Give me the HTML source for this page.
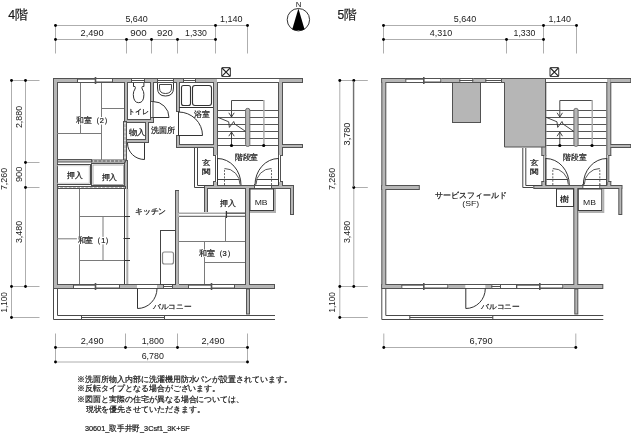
<!DOCTYPE html>
<html><head><meta charset="utf-8"><style>
html,body{margin:0;padding:0;background:#fff;overflow:hidden;}
svg{display:block;filter:grayscale(1);}
text{font-family:"Liberation Sans", sans-serif;fill:#1a1a1a;}
.j{stroke:#1a1a1a;stroke-width:0.22;}
</style></head><body>
<svg width="631" height="441" viewBox="0 0 631 441">
<rect width="631" height="441" fill="#fff"/>
<text class="j" x="8.3" y="19.2" font-size="12.5" textLength="19.8" lengthAdjust="spacingAndGlyphs" >4階</text>
<text class="j" x="337.4" y="19.2" font-size="12.5" textLength="19.3" lengthAdjust="spacingAndGlyphs" >5階</text>
<path d="M55.5 25.5H247.5M55.5 39.5H215.5" stroke="#aeaeae" stroke-width="1" fill="none" />
<path d="M55.5 25V53.5M215.5 25V53.5M247.5 25V53.5M126.5 39V53.5M151.5 39V53.5M177.5 39V53.5" stroke="#aeaeae" stroke-width="1" fill="none" />
<circle cx="55.5" cy="25.5" r="1.45" fill="#000"/>
<circle cx="215.5" cy="25.5" r="1.45" fill="#000"/>
<circle cx="247.5" cy="25.5" r="1.45" fill="#000"/>
<circle cx="55.5" cy="39.5" r="1.45" fill="#000"/>
<circle cx="126.5" cy="39.5" r="1.45" fill="#000"/>
<circle cx="151.5" cy="39.5" r="1.45" fill="#000"/>
<circle cx="177.5" cy="39.5" r="1.45" fill="#000"/>
<circle cx="215.5" cy="39.5" r="1.45" fill="#000"/>
<text x="125.4" y="22" font-size="8.4" textLength="22.4" lengthAdjust="spacingAndGlyphs" >5,640</text>
<text x="219.9" y="22" font-size="8.4" textLength="22.5" lengthAdjust="spacingAndGlyphs" >1,140</text>
<text x="80.5" y="35.7" font-size="8.4" textLength="23.1" lengthAdjust="spacingAndGlyphs" >2,490</text>
<text x="130.3" y="35.8" font-size="8.4" textLength="16.3" lengthAdjust="spacingAndGlyphs" >900</text>
<text x="157.1" y="35.8" font-size="8.4" textLength="15.8" lengthAdjust="spacingAndGlyphs" >920</text>
<text x="185.1" y="35.8" font-size="8.4" textLength="21.8" lengthAdjust="spacingAndGlyphs" >1,330</text>
<path d="M11.5 80V317.5M25.5 80V286.5" stroke="#aeaeae" stroke-width="1" fill="none" />
<path d="M11 80.5H39.5M11 286.5H39.5M11 317.5H39.5M25 162.5H39.5M25 187.5H39.5" stroke="#aeaeae" stroke-width="1" fill="none" />
<circle cx="11.5" cy="80.5" r="1.45" fill="#000"/>
<circle cx="25.5" cy="80.5" r="1.45" fill="#000"/>
<circle cx="25.5" cy="162.5" r="1.45" fill="#000"/>
<circle cx="25.5" cy="187.5" r="1.45" fill="#000"/>
<circle cx="11.5" cy="286.5" r="1.45" fill="#000"/>
<circle cx="25.5" cy="286.5" r="1.45" fill="#000"/>
<circle cx="11.5" cy="317.5" r="1.45" fill="#000"/>
<text x="0" y="0" font-size="8.4" textLength="22.2" lengthAdjust="spacingAndGlyphs" transform="translate(21.7 128.1) rotate(-90)">2,880</text>
<text x="0" y="0" font-size="8.4" textLength="15.5" lengthAdjust="spacingAndGlyphs" transform="translate(21.7 182.1) rotate(-90)">900</text>
<text x="0" y="0" font-size="8.4" textLength="22.2" lengthAdjust="spacingAndGlyphs" transform="translate(21.7 243.1) rotate(-90)">3,480</text>
<text x="0" y="0" font-size="8.4" textLength="22.2" lengthAdjust="spacingAndGlyphs" transform="translate(7.1 190.1) rotate(-90)">7,260</text>
<text x="0" y="0" font-size="8.4" textLength="20.0" lengthAdjust="spacingAndGlyphs" transform="translate(7.1 312.4) rotate(-90)">1,100</text>
<path d="M55.5 333.5V362M247.5 333.5V362M125.5 333.5V347.5M177.5 333.5V347.5" stroke="#aeaeae" stroke-width="1" fill="none" />
<path d="M55.5 347.5H247.5M55.5 362H247.5" stroke="#aeaeae" stroke-width="1" fill="none" />
<circle cx="55.5" cy="347.5" r="1.45" fill="#000"/>
<circle cx="125.5" cy="347.5" r="1.45" fill="#000"/>
<circle cx="177.5" cy="347.5" r="1.45" fill="#000"/>
<circle cx="247.5" cy="347.5" r="1.45" fill="#000"/>
<circle cx="55.5" cy="362" r="1.45" fill="#000"/>
<circle cx="247.5" cy="362" r="1.45" fill="#000"/>
<text x="80.7" y="344.2" font-size="8.4" textLength="23.0" lengthAdjust="spacingAndGlyphs" >2,490</text>
<text x="141.7" y="344.2" font-size="8.4" textLength="22.2" lengthAdjust="spacingAndGlyphs" >1,800</text>
<text x="201.5" y="344.2" font-size="8.4" textLength="23.0" lengthAdjust="spacingAndGlyphs" >2,490</text>
<text x="141.7" y="358.5" font-size="8.4" textLength="22.2" lengthAdjust="spacingAndGlyphs" >6,780</text>
<path d="M383.5 25.5H576.5M383.5 39.5H543.5" stroke="#aeaeae" stroke-width="1" fill="none" />
<path d="M383.5 25V53.5M543.5 25V53.5M576.5 25V53.5M506.5 39V53.5" stroke="#aeaeae" stroke-width="1" fill="none" />
<circle cx="383.5" cy="25.5" r="1.45" fill="#000"/>
<circle cx="543.5" cy="25.5" r="1.45" fill="#000"/>
<circle cx="576.5" cy="25.5" r="1.45" fill="#000"/>
<circle cx="383.5" cy="39.5" r="1.45" fill="#000"/>
<circle cx="506.5" cy="39.5" r="1.45" fill="#000"/>
<circle cx="543.5" cy="39.5" r="1.45" fill="#000"/>
<text x="453.8" y="22" font-size="8.4" textLength="22.4" lengthAdjust="spacingAndGlyphs" >5,640</text>
<text x="548.6" y="22" font-size="8.4" textLength="22.4" lengthAdjust="spacingAndGlyphs" >1,140</text>
<text x="429.8" y="35.7" font-size="8.4" textLength="22.4" lengthAdjust="spacingAndGlyphs" >4,310</text>
<text x="513.6" y="35.8" font-size="8.4" textLength="21.8" lengthAdjust="spacingAndGlyphs" >1,330</text>
<circle cx="298.4" cy="19.7" r="11.2" fill="#fff" stroke="#333" stroke-width="1"/>
<path d="M298.4 8.6L304.6 29.4Q298.4 31.2 292.2 29.4Z" fill="#000"/>
<text x="295.8" y="7" font-size="7.2" textLength="5.7" lengthAdjust="spacingAndGlyphs" >N</text>
<rect x="53" y="78" width="5" height="211" fill="#525252"/>
<rect x="53" y="78" width="165" height="5" fill="#525252"/>
<rect x="213" y="78" width="5" height="78" fill="#525252"/>
<rect x="213" y="181" width="5" height="8" fill="#525252"/>
<rect x="278" y="78" width="5" height="78" fill="#525252"/>
<rect x="278" y="181" width="5" height="8" fill="#525252"/>
<rect x="281" y="78" width="22" height="5" fill="#525252"/>
<rect x="281" y="144" width="22" height="4" fill="#525252"/>
<rect x="205" y="185" width="89" height="4" fill="#525252"/>
<rect x="290" y="185" width="4" height="30" fill="#525252"/>
<rect x="53" y="284" width="222" height="5" fill="#525252"/>
<rect x="245" y="185" width="5" height="104" fill="#525252"/>
<rect x="124" y="78" width="4" height="43" fill="#525252"/>
<rect x="124" y="119" width="30" height="4" fill="#525252"/>
<rect x="150" y="78" width="4" height="24" fill="#525252"/>
<rect x="150" y="117" width="4" height="6" fill="#525252"/>
<rect x="145" y="121" width="4" height="22" fill="#525252"/>
<rect x="126" y="139" width="23" height="4" fill="#525252"/>
<rect x="176" y="78" width="4" height="34" fill="#525252"/>
<rect x="176" y="135" width="4" height="13" fill="#525252"/>
<rect x="176" y="144" width="42" height="4" fill="#525252"/>
<rect x="204" y="185" width="4" height="29" fill="#525252"/>
<rect x="124" y="160" width="4" height="30" fill="#525252"/>
<rect x="54" y="79" width="3" height="209" fill="#b6b6b6"/>
<rect x="54" y="79" width="163" height="3" fill="#b6b6b6"/>
<rect x="214" y="79" width="3" height="76" fill="#b6b6b6"/>
<rect x="214" y="182" width="3" height="6" fill="#b6b6b6"/>
<rect x="279" y="79" width="3" height="76" fill="#b6b6b6"/>
<rect x="279" y="182" width="3" height="6" fill="#b6b6b6"/>
<rect x="282" y="79" width="20" height="3" fill="#b6b6b6"/>
<rect x="282" y="145" width="20" height="2" fill="#b6b6b6"/>
<rect x="206" y="186" width="87" height="2" fill="#b6b6b6"/>
<rect x="291" y="186" width="2" height="28" fill="#b6b6b6"/>
<rect x="54" y="285" width="220" height="3" fill="#b6b6b6"/>
<rect x="246" y="186" width="3" height="102" fill="#b6b6b6"/>
<rect x="125" y="79" width="2" height="41" fill="#b6b6b6"/>
<rect x="125" y="120" width="28" height="2" fill="#b6b6b6"/>
<rect x="151" y="79" width="2" height="22" fill="#b6b6b6"/>
<rect x="151" y="118" width="2" height="4" fill="#b6b6b6"/>
<rect x="146" y="122" width="2" height="20" fill="#b6b6b6"/>
<rect x="127" y="140" width="21" height="2" fill="#b6b6b6"/>
<rect x="177" y="79" width="2" height="32" fill="#b6b6b6"/>
<rect x="177" y="136" width="2" height="11" fill="#b6b6b6"/>
<rect x="177" y="145" width="40" height="2" fill="#b6b6b6"/>
<rect x="205" y="186" width="2" height="27" fill="#b6b6b6"/>
<rect x="125" y="161" width="2" height="28" fill="#b6b6b6"/>
<rect x="213" y="155" width="5" height="27" fill="#fff"/><rect x="278" y="155" width="5" height="27" fill="#fff"/>
<path d="M215.5 155V182M217.5 155V182M278.5 155V182M280.5 155V182" stroke="#525252" stroke-width="1" fill="none" />
<path d="M213 155.5H216M213 181.5H216M280 155.5H283M280 181.5H283" stroke="#525252" stroke-width="1" fill="none" />
<rect x="217" y="79" width="62" height="3" fill="#fff"/>
<path d="M217 78.5H279M217 82.5H279" stroke="#525252" stroke-width="1" fill="none" />
<rect x="77" y="78" width="36" height="5" fill="#fff"/><path d="M77 78.5H113M77 82.5H113" stroke="#525252" stroke-width="1" fill="none" /><path d="M77 79.5H95.5" stroke="#8a8a8a" stroke-width="1" fill="none" /><path d="M95.5 81.5H113" stroke="#a8a8a8" stroke-width="1" fill="none" /><path d="M77.5 78V83M112.5 78V83" stroke="#525252" stroke-width="1" fill="none" /><path d="M95.5 77V84" stroke="#555" stroke-width="1.6" fill="none" />
<rect x="131" y="78" width="14" height="5" fill="#fff"/><path d="M131 78.5H145M131 82.5H145M131 80.5H145" stroke="#525252" stroke-width="1" fill="none" /><path d="M131.5 78V83M144.5 78V83" stroke="#525252" stroke-width="1" fill="none" />
<rect x="157" y="78" width="17" height="5" fill="#fff"/><path d="M157 78.5H174M157 82.5H174M157 80.5H174" stroke="#525252" stroke-width="1" fill="none" /><path d="M157.5 78V83M173.5 78V83" stroke="#525252" stroke-width="1" fill="none" />
<rect x="73" y="284" width="47" height="5" fill="#fff"/><path d="M73 284.5H120M73 288.5H120" stroke="#525252" stroke-width="1" fill="none" /><path d="M73 285.5H95.5" stroke="#8a8a8a" stroke-width="1" fill="none" /><path d="M95.5 287.5H120" stroke="#a8a8a8" stroke-width="1" fill="none" /><path d="M73.5 284V289M119.5 284V289" stroke="#525252" stroke-width="1" fill="none" /><path d="M95.5 283V290" stroke="#555" stroke-width="1.6" fill="none" />
<rect x="137" y="285" width="20" height="3" fill="#fff"/>
<path d="M137 284.5H157M137 288.5H157" stroke="#525252" stroke-width="1" fill="none" />
<rect x="163" y="284" width="10" height="5" fill="#fff"/><path d="M163 284.5H173M163 288.5H173M163 286.5H173" stroke="#525252" stroke-width="1" fill="none" /><path d="M163.5 284V289M172.5 284V289" stroke="#525252" stroke-width="1" fill="none" />
<rect x="188" y="284" width="47" height="5" fill="#fff"/><path d="M188 284.5H235M188 288.5H235" stroke="#525252" stroke-width="1" fill="none" /><path d="M188 285.5H211.5" stroke="#8a8a8a" stroke-width="1" fill="none" /><path d="M211.5 287.5H235" stroke="#a8a8a8" stroke-width="1" fill="none" /><path d="M188.5 284V289M234.5 284V289" stroke="#525252" stroke-width="1" fill="none" /><path d="M211.5 283V290" stroke="#555" stroke-width="1.6" fill="none" />
<rect x="254" y="186" width="18" height="2" fill="#fff"/>
<path d="M254.5 184V190M271.5 184V190" stroke="#525252" stroke-width="1" fill="none" />
<path d="M137.5 288.5V308.5A19.5 20 0 0 0 157 288.5" stroke="#333" stroke-width="1" fill="none" />
<path d="M53.5 289V319.5H275" stroke="#4a4a4a" stroke-width="1" fill="none" />
<path d="M57.5 289V315.5H275" stroke="#4a4a4a" stroke-width="1" fill="none" />
<path d="M81.5 315V320M81.5 317.5H164.5M164.5 315V320" stroke="#4a4a4a" stroke-width="1" fill="none" />
<rect x="246.5" y="289" width="3" height="25" rx="0" fill="#b6b6b6" stroke="#555" stroke-width="1"/>
<path d="M218 110.5H278" stroke="#555" stroke-width="1" fill="none" />
<path d="M218 117.5H278" stroke="#555" stroke-width="1" fill="none" />
<path d="M218 124.5H278" stroke="#555" stroke-width="1" fill="none" />
<path d="M218 131.5H278" stroke="#555" stroke-width="1" fill="none" />
<path d="M218 138.5H278" stroke="#555" stroke-width="1" fill="none" />
<path d="M218 145.5H278" stroke="#555" stroke-width="1" fill="none" />
<rect x="245.6" y="108.4" width="4.2" height="38" rx="1.8" fill="#b6b6b6" stroke="#6a6a6a" stroke-width="1"/>
<path d="M231.5 117V100.5H263.7" stroke="#4a4a4a" stroke-width="1" fill="none" />
<path d="M263.9 100V145.5" stroke="#a8a8a8" stroke-width="1.4" fill="none" />
<path d="M228.8 112.8L231.5 117L234.2 112.8" stroke="#333" stroke-width="0.9" fill="none" />
<path d="M231.5 145.5V132M228.8 136.2L231.5 132L234.2 136.2" stroke="#333" stroke-width="0.9" fill="none" />
<circle cx="231.5" cy="145.5" r="1.6" fill="#000"/>
<circle cx="263.7" cy="145.5" r="1.6" fill="#000"/>
<path d="M217.5 117.2L228.7 121.8L229.4 127.4L233.7 121.5L234.7 124L245.6 131.4" stroke="#333" stroke-width="0.9" fill="none"/>
<path d="M217.5 158.5A23.5 26.5 0 0 1 241 185" stroke="#333" stroke-width="1" fill="none" />
<path d="M278.5 158.5A23.5 26.5 0 0 0 255 185" stroke="#333" stroke-width="1" fill="none" />
<path d="M217.5 158V185M278.5 158V185" stroke="#333" stroke-width="1" fill="none" />
<path d="M218 179.5H239.5M256.5 179.5H278" stroke="#444" stroke-width="1" fill="none" />
<path d="M224.5 185V169M271.5 185V169" stroke="#666" stroke-width="1" fill="none" stroke-dasharray="2 1.3"/>
<path d="M224.5 168.5A15.5 16 0 0 1 240 184.5M271.5 168.5A15.5 16 0 0 0 256 184.5" stroke="#444" stroke-width="0.9" fill="none" />
<path d="M194.5 148V187.5H205M197.5 148V185.5H214" stroke="#444" stroke-width="1" fill="none" />
<rect x="250" y="189" width="23.5" height="21.5" rx="0" fill="#fff" stroke="#3c3c3c" stroke-width="1"/>
<path d="M275 189V212H250" stroke="#b0b0b0" stroke-width="2" fill="none" />
<text x="254.7" y="205.4" font-size="8" textLength="12.9" lengthAdjust="spacingAndGlyphs" >MB</text>
<rect x="221.7" y="67.6" width="8.7" height="8.9" rx="1" fill="none" stroke="#444" stroke-width="1.1"/><path d="M222 68L230.1 76.2M230.1 68L222 76.2" stroke="#222" stroke-width="1.1" fill="none" />
<text class="j" x="234.8" y="160" font-size="7.6" textLength="23.3" lengthAdjust="spacingAndGlyphs" >階段室</text>
<text class="j" x="202.0" y="164.8" font-size="7.4" textLength="8.6" lengthAdjust="spacingAndGlyphs" >玄</text>
<text class="j" x="202.0" y="174.2" font-size="7.4" textLength="8.6" lengthAdjust="spacingAndGlyphs" >関</text>
<text class="j" x="152.9" y="308.6" font-size="7.2" textLength="38.6" lengthAdjust="spacingAndGlyphs" >バルコニー</text>
<rect x="183" y="78" width="13" height="5" fill="#fff"/><path d="M183 78.5H196M183 82.5H196M183 80.5H196" stroke="#525252" stroke-width="1" fill="none" /><path d="M183.5 78V83M195.5 78V83" stroke="#525252" stroke-width="1" fill="none" />
<rect x="175" y="190" width="4" height="95" fill="#b6b6b6"/>
<path d="M175.5 190V285M175 190.5H179" stroke="#525252" stroke-width="1" fill="none" />
<path d="M178.5 191V213M178.5 217V284" stroke="#8a8a8a" stroke-width="1" fill="none" />
<rect x="179" y="212" width="66" height="5" fill="#fff"/>
<path d="M179 213.2H226" stroke="#a8a8a8" stroke-width="1.6" fill="none" />
<path d="M226 213.2H245" stroke="#6a6a6a" stroke-width="1.6" fill="none" />
<path d="M179 216.3H245" stroke="#505050" stroke-width="1" fill="none" />
<path d="M226.4 211V218" stroke="#333" stroke-width="1.3" fill="none" />
<rect x="123.5" y="121.5" width="3" height="39" rx="0" fill="#b6b6b6" stroke="#525252" stroke-width="1"/><path d="M125.0 123V159" stroke="#fff" stroke-width="1" fill="none" stroke-dasharray="1.2 3"/>
<rect x="57.5" y="159.5" width="34" height="2.5" rx="0" fill="#bdbdbd" stroke="#555" stroke-width="1"/>
<rect x="91.5" y="160.0" width="34" height="2.0" rx="0" fill="#b6b6b6" stroke="#525252" stroke-width="1"/><path d="M93 161.0H124" stroke="#fff" stroke-width="1" fill="none" stroke-dasharray="1.2 3"/>
<rect x="57.5" y="186.5" width="68" height="2" rx="0" fill="#b6b6b6" stroke="#525252" stroke-width="1"/><path d="M59 187.5H124" stroke="#fff" stroke-width="1" fill="none" stroke-dasharray="1.2 3"/>
<rect x="125" y="189" width="4" height="95" rx="0" fill="#fff" stroke="none" stroke-width="0"/>
<path d="M124.5 189V284" stroke="#3a3a3a" stroke-width="1" fill="none" />
<path d="M127.3 189V284" stroke="#ababab" stroke-width="2" fill="none" />
<path d="M123.5 216.5H130M123.5 238.5H130M123.5 260.5H130" stroke="#333" stroke-width="1" fill="none" />
<path d="M80.5 83V133.5M57 133.5H101M101.5 83V160M102 108.5H124" stroke="#7a7a7a" stroke-width="1" fill="none" />
<path d="M57 164.5H90.5V184.5H57" stroke="#4a4a4a" stroke-width="1.1" fill="none" />
<path d="M57 165.7H89.3V183.3H57" stroke="#bbb" stroke-width="0.8" fill="none" />
<rect x="91.5" y="163.5" width="33" height="22" rx="0" fill="none" stroke="#505050" stroke-width="1"/>
<rect x="93" y="165" width="30.5" height="19.5" rx="0" fill="none" stroke="#9a9a9a" stroke-width="0.8"/>
<rect x="66.2" y="171.225" width="16.799999999999997" height="7.5" fill="#fff"/><text class="j" x="66.8" y="177.6" font-size="7.5" textLength="15.6" lengthAdjust="spacingAndGlyphs" >押入</text>
<rect x="100.9" y="173.425" width="17.0" height="7.5" fill="#fff"/><text class="j" x="101.5" y="179.8" font-size="7.5" textLength="15.8" lengthAdjust="spacingAndGlyphs" >押入</text>
<path d="M79.5 189V284M80 216.5H124M103 216.5V260.5M80 260.5H124M57 238.8H79" stroke="#7a7a7a" stroke-width="1" fill="none" />
<rect x="76.9" y="236.825" width="37.099999999999994" height="7.5" fill="#fff"/><text class="j" x="77.5" y="243.2" font-size="7.5" textLength="35.9" lengthAdjust="spacingAndGlyphs" >和室（1）</text>
<rect x="75.6" y="117.025" width="36.80000000000001" height="7.5" fill="#fff"/><text class="j" x="76.2" y="123.4" font-size="7.5" textLength="35.6" lengthAdjust="spacingAndGlyphs" >和室（2）</text>
<path d="M133.5 83V86.5H135Q135.8 87.6 135 89Q133.2 91.5 133.3 94.5Q133.5 102.7 138.7 102.7Q143.9 102.7 143.9 94.5Q144 91.5 142.2 89Q141.5 87.6 142.3 86.5H143.9V83" fill="none" stroke="#333" stroke-width="1"/>
<text class="j" x="128.2" y="114.4" font-size="7.2" textLength="21.0" lengthAdjust="spacingAndGlyphs" >トイレ</text>
<path d="M153 101.5A16 16 0 0 1 169 117.5H153" stroke="#333" stroke-width="1" fill="none" />
<path d="M150.5 101V118M153 101V118" stroke="#444" stroke-width="1" fill="none" />
<text class="j" x="128.9" y="135.2" font-size="7.5" textLength="16.5" lengthAdjust="spacingAndGlyphs" >物入</text>
<path d="M127.5 143A17 16.5 0 0 0 144.5 159.5V143" stroke="#333" stroke-width="1" fill="none" />
<path d="M157.5 83V88Q157.5 96 165.5 96Q173.5 96 173.5 88V83" fill="none" stroke="#333" stroke-width="1"/>
<path d="M159.5 84.5H171.5V88Q171.5 93.5 165.5 93.5Q159.5 93.5 159.5 88Z" fill="none" stroke="#333" stroke-width="0.9"/>
<text class="j" x="151.0" y="133.2" font-size="7.6" textLength="24.3" lengthAdjust="spacingAndGlyphs" >洗面所</text>
<path d="M179 107.5H213" stroke="#333" stroke-width="1" fill="none" />
<rect x="181.5" y="85.5" width="9" height="20" rx="2" fill="none" stroke="#333" stroke-width="1.1"/>
<rect x="192.5" y="85.5" width="19" height="20" rx="2.5" fill="none" stroke="#333" stroke-width="1.1"/>
<path d="M178.5 112A24 23.5 0 0 1 202.5 135.5H178.5Z" stroke="#333" stroke-width="1" fill="none" />
<text class="j" x="193.8" y="116.8" font-size="7.6" textLength="15.8" lengthAdjust="spacingAndGlyphs" >浴室</text>
<text class="j" x="134.9" y="213.6" font-size="7.5" textLength="31.4" lengthAdjust="spacingAndGlyphs" >キッチン</text>
<rect x="160.5" y="230.5" width="15" height="54" rx="0" fill="none" stroke="#444" stroke-width="1"/>
<rect x="162.5" y="252" width="11" height="12" rx="2" fill="#fff" stroke="#888" stroke-width="1.2"/>
<path d="M225.5 217V241.5M179 241.5H245M204.5 241.5V284M204.5 262.5H245" stroke="#7a7a7a" stroke-width="1" fill="none" />
<rect x="198" y="249.625" width="37.400000000000006" height="7.5" fill="#fff"/><text class="j" x="198.6" y="256" font-size="7.5" textLength="36.2" lengthAdjust="spacingAndGlyphs" >和室（3）</text>
<text class="j" x="219.8" y="206.1" font-size="7.6" textLength="15.8" lengthAdjust="spacingAndGlyphs" >押入</text>
<g transform="translate(328.3 0)"><rect x="53" y="78" width="5" height="211" fill="#525252"/>
<rect x="53" y="78" width="165" height="5" fill="#525252"/>
<rect x="213" y="78" width="5" height="78" fill="#525252"/>
<rect x="213" y="181" width="5" height="8" fill="#525252"/>
<rect x="278" y="78" width="5" height="78" fill="#525252"/>
<rect x="278" y="181" width="5" height="8" fill="#525252"/>
<rect x="281" y="78" width="22" height="5" fill="#525252"/>
<rect x="281" y="144" width="22" height="4" fill="#525252"/>
<rect x="205" y="185" width="89" height="4" fill="#525252"/>
<rect x="290" y="185" width="4" height="30" fill="#525252"/>
<rect x="53" y="284" width="222" height="5" fill="#525252"/>
<rect x="245" y="185" width="5" height="104" fill="#525252"/>
<rect x="53" y="185" width="38.5" height="5" fill="#525252"/>
<rect x="54" y="79" width="3" height="209" fill="#b6b6b6"/>
<rect x="54" y="79" width="163" height="3" fill="#b6b6b6"/>
<rect x="214" y="79" width="3" height="76" fill="#b6b6b6"/>
<rect x="214" y="182" width="3" height="6" fill="#b6b6b6"/>
<rect x="279" y="79" width="3" height="76" fill="#b6b6b6"/>
<rect x="279" y="182" width="3" height="6" fill="#b6b6b6"/>
<rect x="282" y="79" width="20" height="3" fill="#b6b6b6"/>
<rect x="282" y="145" width="20" height="2" fill="#b6b6b6"/>
<rect x="206" y="186" width="87" height="2" fill="#b6b6b6"/>
<rect x="291" y="186" width="2" height="28" fill="#b6b6b6"/>
<rect x="54" y="285" width="220" height="3" fill="#b6b6b6"/>
<rect x="246" y="186" width="3" height="102" fill="#b6b6b6"/>
<rect x="54" y="186" width="36.5" height="3" fill="#b6b6b6"/>
<rect x="213" y="155" width="5" height="27" fill="#fff"/><rect x="278" y="155" width="5" height="27" fill="#fff"/>
<path d="M215.5 155V182M217.5 155V182M278.5 155V182M280.5 155V182" stroke="#525252" stroke-width="1" fill="none" />
<path d="M213 155.5H216M213 181.5H216M280 155.5H283M280 181.5H283" stroke="#525252" stroke-width="1" fill="none" />
<rect x="217" y="79" width="62" height="3" fill="#fff"/>
<path d="M217 78.5H279M217 82.5H279" stroke="#525252" stroke-width="1" fill="none" />
<rect x="77" y="78" width="36" height="5" fill="#fff"/><path d="M77 78.5H113M77 82.5H113" stroke="#525252" stroke-width="1" fill="none" /><path d="M77 79.5H95.5" stroke="#8a8a8a" stroke-width="1" fill="none" /><path d="M95.5 81.5H113" stroke="#a8a8a8" stroke-width="1" fill="none" /><path d="M77.5 78V83M112.5 78V83" stroke="#525252" stroke-width="1" fill="none" /><path d="M95.5 77V84" stroke="#555" stroke-width="1.6" fill="none" />
<rect x="131" y="78" width="14" height="5" fill="#fff"/><path d="M131 78.5H145M131 82.5H145M131 80.5H145" stroke="#525252" stroke-width="1" fill="none" /><path d="M131.5 78V83M144.5 78V83" stroke="#525252" stroke-width="1" fill="none" />
<rect x="157" y="78" width="17" height="5" fill="#fff"/><path d="M157 78.5H174M157 82.5H174M157 80.5H174" stroke="#525252" stroke-width="1" fill="none" /><path d="M157.5 78V83M173.5 78V83" stroke="#525252" stroke-width="1" fill="none" />
<rect x="73" y="284" width="47" height="5" fill="#fff"/><path d="M73 284.5H120M73 288.5H120" stroke="#525252" stroke-width="1" fill="none" /><path d="M73 285.5H95.5" stroke="#8a8a8a" stroke-width="1" fill="none" /><path d="M95.5 287.5H120" stroke="#a8a8a8" stroke-width="1" fill="none" /><path d="M73.5 284V289M119.5 284V289" stroke="#525252" stroke-width="1" fill="none" /><path d="M95.5 283V290" stroke="#555" stroke-width="1.6" fill="none" />
<rect x="137" y="285" width="20" height="3" fill="#fff"/>
<path d="M137 284.5H157M137 288.5H157" stroke="#525252" stroke-width="1" fill="none" />
<rect x="163" y="284" width="10" height="5" fill="#fff"/><path d="M163 284.5H173M163 288.5H173M163 286.5H173" stroke="#525252" stroke-width="1" fill="none" /><path d="M163.5 284V289M172.5 284V289" stroke="#525252" stroke-width="1" fill="none" />
<rect x="188" y="284" width="47" height="5" fill="#fff"/><path d="M188 284.5H235M188 288.5H235" stroke="#525252" stroke-width="1" fill="none" /><path d="M188 285.5H211.5" stroke="#8a8a8a" stroke-width="1" fill="none" /><path d="M211.5 287.5H235" stroke="#a8a8a8" stroke-width="1" fill="none" /><path d="M188.5 284V289M234.5 284V289" stroke="#525252" stroke-width="1" fill="none" /><path d="M211.5 283V290" stroke="#555" stroke-width="1.6" fill="none" />
<rect x="254" y="186" width="18" height="2" fill="#fff"/>
<path d="M254.5 184V190M271.5 184V190" stroke="#525252" stroke-width="1" fill="none" />
<path d="M137.5 288.5V308.5A19.5 20 0 0 0 157 288.5" stroke="#333" stroke-width="1" fill="none" />
<path d="M53.5 289V319.5H275" stroke="#4a4a4a" stroke-width="1" fill="none" />
<path d="M57.5 289V315.5H275" stroke="#4a4a4a" stroke-width="1" fill="none" />
<path d="M81.5 315V320M81.5 317.5H164.5M164.5 315V320" stroke="#4a4a4a" stroke-width="1" fill="none" />
<rect x="246.5" y="289" width="3" height="25" rx="0" fill="#b6b6b6" stroke="#555" stroke-width="1"/>
<path d="M218 110.5H278" stroke="#555" stroke-width="1" fill="none" />
<path d="M218 117.5H278" stroke="#555" stroke-width="1" fill="none" />
<path d="M218 124.5H278" stroke="#555" stroke-width="1" fill="none" />
<path d="M218 131.5H278" stroke="#555" stroke-width="1" fill="none" />
<path d="M218 138.5H278" stroke="#555" stroke-width="1" fill="none" />
<path d="M218 145.5H278" stroke="#555" stroke-width="1" fill="none" />
<rect x="245.6" y="108.4" width="4.2" height="38" rx="1.8" fill="#b6b6b6" stroke="#6a6a6a" stroke-width="1"/>
<path d="M231.5 117V100.5H263.7" stroke="#4a4a4a" stroke-width="1" fill="none" />
<path d="M263.9 100V145.5" stroke="#a8a8a8" stroke-width="1.4" fill="none" />
<path d="M228.8 112.8L231.5 117L234.2 112.8" stroke="#333" stroke-width="0.9" fill="none" />
<path d="M231.5 145.5V132M228.8 136.2L231.5 132L234.2 136.2" stroke="#333" stroke-width="0.9" fill="none" />
<circle cx="231.5" cy="145.5" r="1.6" fill="#000"/>
<circle cx="263.7" cy="145.5" r="1.6" fill="#000"/>
<path d="M217.5 117.2L228.7 121.8L229.4 127.4L233.7 121.5L234.7 124L245.6 131.4" stroke="#333" stroke-width="0.9" fill="none"/>
<path d="M217.5 158.5A23.5 26.5 0 0 1 241 185" stroke="#333" stroke-width="1" fill="none" />
<path d="M278.5 158.5A23.5 26.5 0 0 0 255 185" stroke="#333" stroke-width="1" fill="none" />
<path d="M217.5 158V185M278.5 158V185" stroke="#333" stroke-width="1" fill="none" />
<path d="M218 179.5H239.5M256.5 179.5H278" stroke="#444" stroke-width="1" fill="none" />
<path d="M224.5 185V169M271.5 185V169" stroke="#666" stroke-width="1" fill="none" stroke-dasharray="2 1.3"/>
<path d="M224.5 168.5A15.5 16 0 0 1 240 184.5M271.5 168.5A15.5 16 0 0 0 256 184.5" stroke="#444" stroke-width="0.9" fill="none" />
<path d="M194.5 148V187.5H205M197.5 148V185.5H214" stroke="#444" stroke-width="1" fill="none" />
<rect x="250" y="189" width="23.5" height="21.5" rx="0" fill="#fff" stroke="#3c3c3c" stroke-width="1"/>
<path d="M275 189V212H250" stroke="#b0b0b0" stroke-width="2" fill="none" />
<text x="254.7" y="205.4" font-size="8" textLength="12.9" lengthAdjust="spacingAndGlyphs" >MB</text>
<rect x="221.7" y="67.6" width="8.7" height="8.9" rx="1" fill="none" stroke="#444" stroke-width="1.1"/><path d="M222 68L230.1 76.2M230.1 68L222 76.2" stroke="#222" stroke-width="1.1" fill="none" />
<text class="j" x="234.8" y="160" font-size="7.6" textLength="23.3" lengthAdjust="spacingAndGlyphs" >階段室</text>
<text class="j" x="202.0" y="164.8" font-size="7.4" textLength="8.6" lengthAdjust="spacingAndGlyphs" >玄</text>
<text class="j" x="202.0" y="174.2" font-size="7.4" textLength="8.6" lengthAdjust="spacingAndGlyphs" >関</text>
<text class="j" x="152.9" y="308.6" font-size="7.2" textLength="38.6" lengthAdjust="spacingAndGlyphs" >バルコニー</text><path d="M11.5 80V317.5M25.5 80V286.5" stroke="#aeaeae" stroke-width="1" fill="none" />
<path d="M11 80.5H39.5M11 286.5H39.5M11 317.5H39.5M25 187.5H39.5" stroke="#aeaeae" stroke-width="1" fill="none" />
<circle cx="11.5" cy="80.5" r="1.45" fill="#000"/>
<circle cx="25.5" cy="80.5" r="1.45" fill="#000"/>
<circle cx="25.5" cy="187.5" r="1.45" fill="#000"/>
<circle cx="11.5" cy="286.5" r="1.45" fill="#000"/>
<circle cx="25.5" cy="286.5" r="1.45" fill="#000"/>
<circle cx="11.5" cy="317.5" r="1.45" fill="#000"/>
<path d="M25.2 81V187" stroke="#707070" stroke-width="1.3" fill="none" />
<text x="0" y="0" font-size="8.4" textLength="22.8" lengthAdjust="spacingAndGlyphs" transform="translate(21.7 145.4) rotate(-90)">3,780</text>
<text x="0" y="0" font-size="8.4" textLength="22.2" lengthAdjust="spacingAndGlyphs" transform="translate(21.7 243.1) rotate(-90)">3,480</text>
<text x="0" y="0" font-size="8.4" textLength="22.2" lengthAdjust="spacingAndGlyphs" transform="translate(7.1 190.1) rotate(-90)">7,260</text>
<text x="0" y="0" font-size="8.4" textLength="20.0" lengthAdjust="spacingAndGlyphs" transform="translate(7.1 312.4) rotate(-90)">1,100</text>
<path d="M55.5 333.5V347.5M247.5 333.5V347.5" stroke="#aeaeae" stroke-width="1" fill="none" />
<path d="M55.5 347.5H247.5" stroke="#aeaeae" stroke-width="1" fill="none" />
<circle cx="55.5" cy="347.5" r="1.45" fill="#000"/>
<circle cx="247.5" cy="347.5" r="1.45" fill="#000"/>
<text x="141.3" y="344.2" font-size="8.4" textLength="23.0" lengthAdjust="spacingAndGlyphs" >6,790</text></g>
<rect x="452.5" y="82.5" width="28" height="40" rx="0" fill="#b6b6b6" stroke="#525252" stroke-width="1"/>
<path d="M501.5 78.5H545.5V147H504.5V82.5H501.5Z" fill="#b6b6b6" stroke="#525252" stroke-width="1"/>
<rect x="556.5" y="189" width="17" height="17.5" rx="0" fill="#fff" stroke="#3c3c3c" stroke-width="1"/>
<text class="j" x="559.9" y="201.6" font-size="7.5" textLength="9.1" lengthAdjust="spacingAndGlyphs" >樹</text>
<text class="j" x="434.9" y="197.9" font-size="7.8" textLength="71.6" lengthAdjust="spacingAndGlyphs" >サービスフィールド</text>
<text x="462.3" y="206.3" font-size="8" textLength="16.9" lengthAdjust="spacingAndGlyphs" >(SF)</text>
<rect x="500" y="284" width="17" height="5" fill="#fff"/><path d="M500 284.5H517M500 288.5H517" stroke="#525252" stroke-width="1" fill="none" /><path d="M500.5 284V289M516.5 284V289" stroke="#525252" stroke-width="1" fill="none" />
<text class="j" x="77.2" y="381.6" font-size="8" textLength="214.7" lengthAdjust="spacingAndGlyphs">※洗面所物入内部に洗濯機用防水パンが設置されています。</text>
<text class="j" x="77.2" y="391.4" font-size="8" textLength="143.1" lengthAdjust="spacingAndGlyphs">※反転タイプとなる場合がございます。</text>
<text class="j" x="77.2" y="401.7" font-size="8" textLength="167.0" lengthAdjust="spacingAndGlyphs">※図面と実際の住宅が異なる場合については、</text>
<text class="j" x="85.6" y="411.9" font-size="8" textLength="119.2" lengthAdjust="spacingAndGlyphs">現状を優先させていただきます。</text>
<text class="j" x="84.9" y="430.9" font-size="7.6" textLength="104.9" lengthAdjust="spacingAndGlyphs" >30601_取手井野_3Csf1_3K+SF</text>
</svg>
</body></html>
